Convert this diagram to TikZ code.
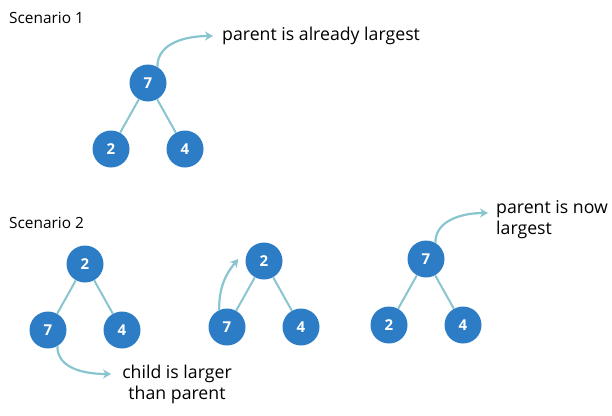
\documentclass[tikz,border=0pt]{standalone}
\usepackage{fontspec}
\setmainfont{Open Sans}
\usepackage{xcolor}
\usepackage{tikz}
\usetikzlibrary{positioning}
\usetikzlibrary{arrows,arrows.meta}

\definecolor{heapblue}{HTML}{2D7DC6}
\definecolor{linkteal}{HTML}{88C5CF}

\tikzset{
  key/.style={circle,fill=heapblue,text=white,minimum size=37pt,inner sep=0pt,
    font=\bfseries\fontsize{15}{15}\selectfont},
  link/.style={draw=linkteal,line width=2pt},
  hint/.style={->,draw=linkteal,line width=2.2pt},
  note/.style={inner sep=0pt,font=\fontsize{17.7}{21}\selectfont},
  title/.style={inner sep=0pt,anchor=west,font=\fontsize{15.4}{15}\selectfont}
}

\begin{document}
\begin{tikzpicture}[x=1pt,y=1pt,>={Stealth[length=8pt,width=9pt,inset=2.5pt]},
		node distance=66pt and 37pt,on grid]
		\useasboundingbox (0,0) rectangle (612,-415);
		
		\node[title] (sc1) at (9,-18) {Scenario 1};
		
		\node[key] (a7) at (148,-83) {7};
		\node[key] (a2) [below left = of a7] {2};
		\node[key] (a4) [below right = of a7] {4};
		\draw[link] (a7) -- (a2);
		\draw[link] (a7) -- (a4);
		
		\node[note,anchor=west] (lbl1) at (222,-36) {parent is already largest};
		\draw[hint] (a7.60) to[out=90,in=180] ([xshift=-9pt]lbl1.west);
		
		\node[title] (sc2) at (9,-223) {Scenario 2};
		
		\node[key] (b2) at (85,-264) {2};
		\node[key] (b7) [below left = of b2] {7};
		\node[key] (b4) [below right = of b2] {4};
		\draw[link] (b2) -- (b7);
		\draw[link] (b2) -- (b4);
		
		\node[note,align=center] (lbl2) at (177,-384) {child is larger\\than parent};
		\draw[hint] (b7.-60) to[out=-90,in=180] ([xshift=-11pt,yshift=10pt]lbl2.west);
		
		\node[key] (c2) at (264,-261) {2};
		\node[key] (c7) [below left = of c2] {7};
		\node[key] (c4) [below right = of c2] {4};
		\draw[link] (c2) -- (c7);
		\draw[link] (c2) -- (c4);
		\draw[hint] (c7.115) to[out=90,in=-130] ([xshift=-7pt,yshift=2pt]c2.west);
		
		\node[key] (d7) at (426,-259) {7};
		\node[key] (d2) [below left = of d7] {2};
		\node[key] (d4) [below right = of d7] {4};
		\draw[link] (d7) -- (d2);
		\draw[link] (d7) -- (d4);
		
		\node[note,align=left,anchor=west] (lbl3) at (496,-220) {parent is now\\largest};
		\draw[hint] (d7.60) to[out=90,in=180] ([xshift=-8pt,yshift=7pt]lbl3.west);
\end{tikzpicture}
\end{document}
